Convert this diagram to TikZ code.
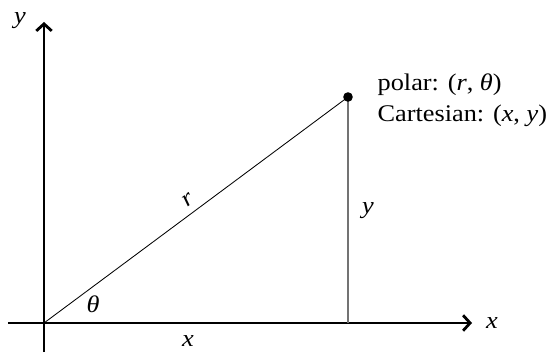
\documentclass[tikz,border=0pt]{standalone}
\usepackage{fontspec}
\setmainfont{Liberation Serif}[FakeStretch=1.1]
\usepackage{tikz}
\usetikzlibrary{arrows.meta, positioning, calc}
\newcommand{\mv}[1]{\textit{#1}}

\begin{document}
\begin{tikzpicture}[
  axis/.style={line width=2pt, -{Straight Barb[length=5pt, width=11pt, line width=2pt]}},
  lbl/.style={font=\fontsize{17}{22}\selectfont, inner sep=1pt},
  side/.style={line width=0.9pt, black!55}
]
  \useasboundingbox (-1.1, -0.925) rectangle (12.725, 8.075);

  % Axes
  \coordinate (O) at (0, 0);
  \coordinate (xl) at (-0.9, 0);
  \coordinate (xr) at (10.7, 0);
  \coordinate (yb) at (0, -0.725);
  \coordinate (yt) at (0, 7.525);
  \draw[axis] (xl) -- (xr);
  \draw[axis] (yb) -- (yt);
  \node[lbl] (xname) at (11.2, 0) {\mv{x}};
  \node[lbl] (yname) at (-0.6, 7.55) {\mv{y}};

  % Point and triangle
  \coordinate (P) at (7.6, 5.65);
  \coordinate (F) at (7.6, 0);
  \draw[side] (P) -- (F);
  \draw[line width=0.6pt] (O) -- node[lbl, sloped, above=4pt] (rlbl) {\mv{r}} (P);
  \fill (P) circle (0.12);

  % Labels
  \node[lbl] (theta) at (1.225, 0.48) {\mv{θ}};
  \node[lbl] (xlen) at (3.6, -0.45) {\mv{x}};
  \node[lbl] (ylen) at (8.1, 2.8) {\mv{y}};
  \node[lbl, anchor=west, align=left] (coords) at (8.3, 5.56)
    {polar: (\mv{r}, \mv{θ})\\Cartesian: (\mv{x}, \mv{y})};
\end{tikzpicture}
\end{document}
